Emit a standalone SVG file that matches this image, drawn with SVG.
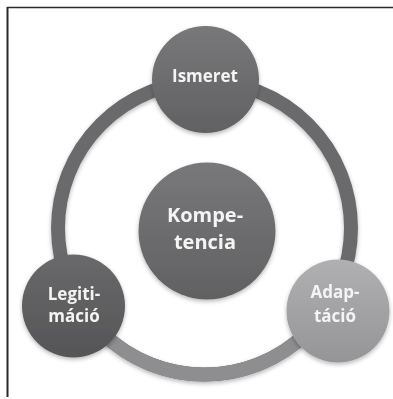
<svg xmlns="http://www.w3.org/2000/svg" width="393" height="399" viewBox="0 0 393 399">
  <defs>
    <filter id="sh" x="-20%" y="-20%" width="140%" height="150%">
      <feDropShadow dx="0" dy="2" stdDeviation="2.2" flood-color="#000" flood-opacity="0.28"/>
    </filter>
    <linearGradient id="gDark" x1="0" y1="0" x2="0" y2="1">
      <stop offset="0" stop-color="#78787a"/>
      <stop offset="1" stop-color="#616163"/>
    </linearGradient>
    <linearGradient id="gDarker" x1="0" y1="0" x2="0" y2="1">
      <stop offset="0" stop-color="#69696b"/>
      <stop offset="1" stop-color="#555557"/>
    </linearGradient>
    <linearGradient id="gLight" x1="0" y1="0" x2="0" y2="1">
      <stop offset="0" stop-color="#b0b0b2"/>
      <stop offset="1" stop-color="#959597"/>
    </linearGradient>
  </defs>
  <style>
    .ring { fill: none; stroke-width: 14; }
    .node { filter: url(#sh); }
    .lbl { font-family: "Open Sans", "Liberation Sans", sans-serif; font-weight: 700; fill: #f4f4f4; text-anchor: middle; font-size: 17px; }
    .big { font-size: 20px; }
    .frame { stroke: #2a2a2a; fill: none; }
  </style>
  <rect width="393" height="399" fill="#ffffff"/>
  <line class="frame" x1="7" y1="7.5" x2="393" y2="7.5" stroke-width="1.6"/>
  <line class="frame" x1="7.5" y1="7" x2="7.5" y2="397" stroke-width="2"/>

  <g id="connectors" filter="url(#sh)">
    <circle class="ring" cx="204.5" cy="228" r="146.5" stroke="#6b6b6d"/>
    <path class="ring" d="M 328.9 305.4 A 146.5 146.5 0 0 1 78.5 302.8" stroke="#8e8e90"/>
  </g>

  <g id="kompetencia" class="node">
    <circle cx="207" cy="231" r="68.5" fill="url(#gDark)"/>
    <text class="lbl big" x="205" y="222">Kompe-</text>
    <text class="lbl big" x="205" y="249">tencia</text>
  </g>

  <g id="ismeret" class="node">
    <circle cx="205.5" cy="79.5" r="53.5" fill="url(#gDark)"/>
    <text class="lbl" x="205" y="82">Ismeret</text>
  </g>

  <g id="legitimacio" class="node">
    <circle cx="73.5" cy="306" r="51.5" fill="url(#gDarker)"/>
    <text class="lbl" x="74" y="300">Legiti-</text>
    <text class="lbl" x="74" y="322">máció</text>
  </g>

  <g id="adaptacio" class="node">
    <circle cx="338" cy="311" r="51.5" fill="url(#gLight)"/>
    <text class="lbl" x="335" y="298">Adap-</text>
    <text class="lbl" x="335" y="322">táció</text>
  </g>
</svg>
